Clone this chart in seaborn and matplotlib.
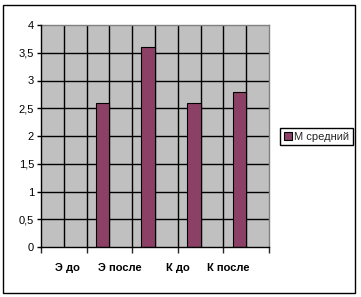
import numpy as np
import pandas as pd
import matplotlib
matplotlib.use("Agg")
import matplotlib.pyplot as plt
import matplotlib.transforms as mtransforms
import seaborn as sns
from matplotlib.patches import Rectangle

categories = ["Э до", "Э после", "К до", "К после"]
values = [2.6, 3.6, 2.6, 2.8]
series_name = "М средний"
y_ticks = [0, 0.5, 1, 1.5, 2, 2.5, 3, 3.5, 4]
y_labels = ["0", "0,5", "1", "1,5", "2", "2,5", "3", "3,5", "4"]

sns.set_style("white")
plt.rcParams["font.family"] = ["Liberation Sans", "DejaVu Sans"]

df = pd.DataFrame({"cat": categories, "val": values, "series": series_name})

fig = plt.figure(figsize=(3.61, 2.97), dpi=100)
fig.patch.set_facecolor("white")
ax = fig.add_axes([41 / 361, 50 / 297, 228 / 361, 222 / 297])
ax.set_facecolor("#C0C0C0")

sns.barplot(data=df, x="cat", y="val", hue="series",
            hue_order=[series_name, "_blank"], order=categories,
            palette={series_name: "#993366", "_blank": "#993366"},
            width=0.6, dodge=True, edgecolor="black", linewidth=0.8,
            ax=ax, legend=True, zorder=3)

ax.set_xlim(-1.5, 3.5)
ax.set_ylim(0, 4)

# gridlines
for yv in y_ticks[1:-1]:
    ax.axhline(yv, color="black", lw=1, zorder=1)
for xv in np.arange(-1.0, 3.5, 0.5):
    ax.axvline(xv, color="black", lw=1, zorder=1)

ax.set_yticks(y_ticks, y_labels)
ax.tick_params(axis="y", length=3, width=1, direction="out", pad=2,
               labelsize=8, colors="black", left=True)
ax.set_xticks(np.arange(-1.5, 3.6, 1.0), [""] * 6)
ax.tick_params(axis="x", which="major", length=4, width=1, direction="out",
               bottom=True)

# category labels (Excel places them offset from the bars)
label_pos = [-0.93, 0.23, 1.5, 2.6]
trans = mtransforms.blended_transform_factory(ax.transData, fig.transFigure)
for xp, name in zip(label_pos, categories):
    ax.text(xp, 1 - 268 / 297, name, transform=trans, ha="center",
            va="center", fontsize=8, fontweight="bold", color="black",
            clip_on=False)

ax.set_xlabel("")
ax.set_ylabel("")

for s in ["left", "bottom"]:
    ax.spines[s].set_color("black")
    ax.spines[s].set_linewidth(1)
    ax.spines[s].set_zorder(4)
for s in ["top", "right"]:
    ax.spines[s].set_color("#808080")
    ax.spines[s].set_linewidth(1)

handles, labels = ax.get_legend_handles_labels()
ax.legend(handles[:1], labels[:1], loc="center left",
          bbox_to_anchor=(280 / 361, 1 - 136.5 / 297),
          bbox_transform=fig.transFigure, fontsize=8, frameon=True,
          fancybox=False, edgecolor="black", framealpha=1,
          handlelength=0.7, handleheight=0.7, handletextpad=0.2,
          borderpad=0.35, borderaxespad=0)
leg = ax.get_legend()
leg.get_frame().set_linewidth(1)

fig.add_artist(Rectangle((3.5 / 361, 4.5 / 297), 351.5 / 361, 287.5 / 297,
                         transform=fig.transFigure, fill=False,
                         edgecolor="black", lw=1))

fig.savefig("out.png", dpi=100, facecolor="white")
